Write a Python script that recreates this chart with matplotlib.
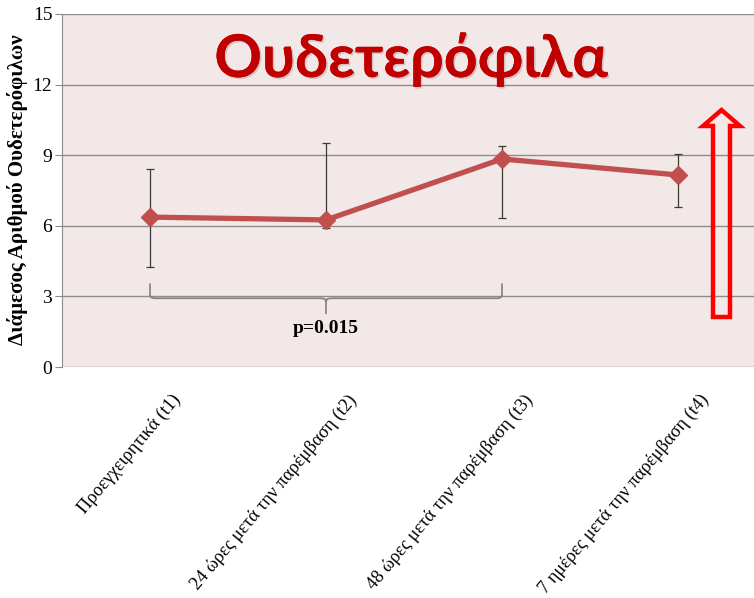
import matplotlib
matplotlib.use("Agg")
import matplotlib.pyplot as plt
import matplotlib.patheffects as pe
import matplotlib.transforms as mtransforms
from matplotlib.path import Path
from matplotlib.patches import PathPatch, Polygon
import numpy as np

categories = ["Προεγχειρητικά (t1)", "24 ώρες μετά την παρέμβαση (t2)",
              "48 ώρες μετά την παρέμβαση (t3)", "7 ημέρες μετά την παρέμβαση (t4)"]
medians = [6.37, 6.25, 8.84, 8.16]
upper = [8.41, 9.50, 9.38, 9.05]
lower = [4.25, 5.90, 6.32, 6.80]
yticks = [0, 3, 6, 9, 12, 15]
title = "Ουδετερόφιλα"
ylabel = "Διάμεσος Αριθμού Ουδετερόφιλων"
ptext = "p=0.015"

W, H = 754, 598
fig = plt.figure(figsize=(W / 100, H / 100), dpi=100)
fig.patch.set_facecolor("white")

def fx(px):
    return px / W

def fy(py):
    return 1 - py / H

ax = fig.add_axes([fx(62), fy(367), (766 - 62) / W, (367 - 14) / H])
ax.set_facecolor("#f2e8e8")
x = np.arange(len(categories))
med = np.array(medians)
yerr = np.array([med - np.array(lower), np.array(upper) - med])

ax.errorbar(x, med, yerr=yerr, fmt="none", ecolor="#3a3a3a", elinewidth=0.9,
            capsize=3, capthick=0.9, zorder=3)
ax.plot(x, med, color="#c0504d", lw=3.8, marker="D", ms=9.5, mfc="#c0504d",
        mec="#c0504d", zorder=4, solid_capstyle="round")

ax.set_xlim(-0.5, len(categories) - 0.5)
ax.set_ylim(0, 15)
ax.set_yticks(yticks)
ax.set_yticklabels([str(t) for t in yticks], fontfamily="Liberation Serif", fontsize=14)
ax.yaxis.grid(True, color="#8c8c8c", lw=1.0)
ax.set_axisbelow(True)
for s in ["top", "right", "bottom"]:
    ax.spines[s].set_visible(False)
ax.spines["left"].set_color("#8c8c8c")
ax.tick_params(axis="y", length=5, color="#8c8c8c", pad=2)
ax.tick_params(axis="x", length=0, pad=17.5)
ax.set_xticks(x)
ax.set_xticklabels(categories, rotation=50, ha="right", va="top",
                   rotation_mode="anchor", fontfamily="Liberation Serif", fontsize=13.2)
for lbl in ax.get_xticklabels():
    lbl.set_transform(lbl.get_transform() + mtransforms.ScaledTranslation(0.21, 0, fig.dpi_scale_trans))

fig.text(fx(18), fy(190), ylabel, rotation=90, ha="center", va="center",
         fontfamily="Liberation Serif", fontweight="bold", fontsize=15)

# title
fig.text(fx(411), fy(77), title, ha="center", va="baseline", color="#c00000",
         fontfamily="Lato", fontweight="bold", fontsize=42.5,
         path_effects=[pe.withSimplePatchShadow(offset=(1.2, -1.2), shadow_rgbFace="#9a8080", alpha=0.35),
                       pe.Normal()])

# brace (data coordinates)
x0, x1, xm = x[0], x[2], x[1]
ytip, ybar, ymid = 3.55, 2.92, 2.25
r = 0.03
verts = [(x0, ytip), (x0, ybar + 0.15), (x0, ybar), (x0 + r, ybar),
         (xm - r, ybar), (xm, ybar), (xm, ybar - 0.15), (xm, ymid)]
codes = [Path.MOVETO, Path.LINETO, Path.CURVE3, Path.CURVE3,
         Path.LINETO, Path.CURVE3, Path.CURVE3, Path.LINETO]
ax.add_patch(PathPatch(Path(verts, codes), fill=False, ec="#808080", lw=1.2, zorder=2))
verts2 = [(x1, ytip), (x1, ybar + 0.15), (x1, ybar), (x1 - r, ybar),
          (xm + r, ybar), (xm, ybar), (xm, ybar - 0.15)]
codes2 = [Path.MOVETO, Path.LINETO, Path.CURVE3, Path.CURVE3,
          Path.LINETO, Path.CURVE3, Path.CURVE3]
ax.add_patch(PathPatch(Path(verts2, codes2), fill=False, ec="#808080", lw=1.2, zorder=2))
ax.text(xm, 1.62, ptext, ha="center", va="center", fontfamily="Liberation Serif",
        fontweight="bold", fontsize=14)

# hollow red arrow
arrow_px = [(713, 317), (730, 317), (730, 126), (740, 126), (721.5, 110),
            (703, 126), (713, 126)]
arrow = Polygon([(fx(a), fy(b)) for a, b in arrow_px], closed=True, transform=fig.transFigure,
                fill=False, ec="#ff0000", lw=3.2, joinstyle="miter", zorder=5)
fig.patches.append(arrow)

fig.savefig("out.png", dpi=100)
